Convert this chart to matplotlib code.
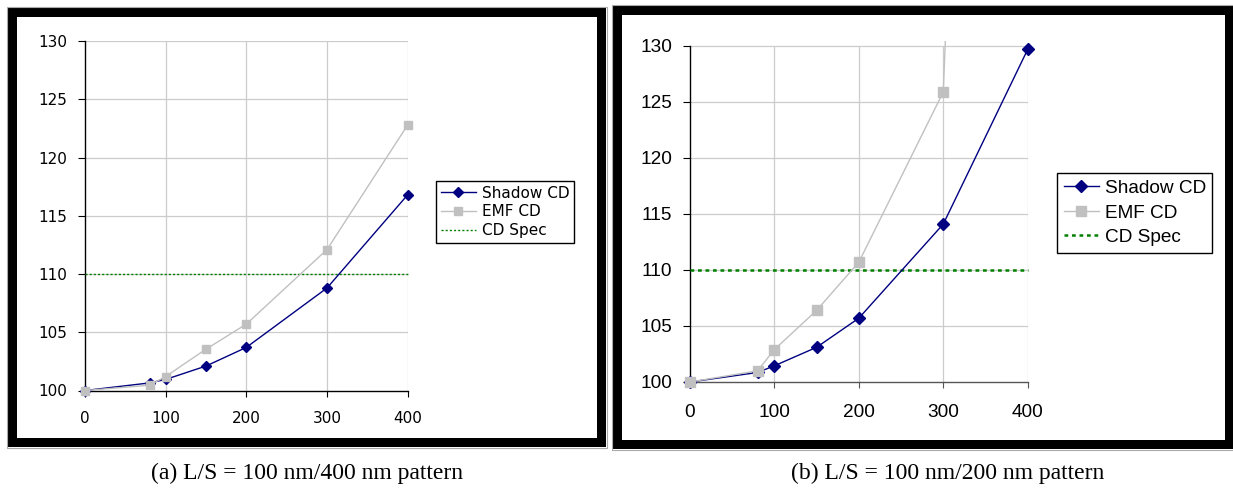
import matplotlib
matplotlib.use("Agg")
import matplotlib.pyplot as plt
from matplotlib.patches import Rectangle
from matplotlib.transforms import Bbox, TransformedBbox
import numpy as np

# ---------------- data ----------------
x_vals = [0, 80, 100, 150, 200, 300, 400]
x_ticks = [0, 100, 200, 300, 400]
y_ticks = [100, 105, 110, 115, 120, 125, 130]

shadow_a = [100.0, 100.65, 100.95, 102.1, 103.7, 108.8, 116.8]
emf_a = [100.0, 100.45, 101.2, 103.55, 105.7, 112.1, 122.8]

shadow_b = [100.0, 100.85, 101.45, 103.1, 105.7, 114.1, 129.7]
emf_b = [100.0, 101.0, 102.9, 106.4, 110.7, 125.9, 314.0]

spec_x = [0, 400]
spec_y = [110, 110]

labels = ["Shadow CD", "EMF CD", "CD Spec"]
captions = ["(a) L/S = 100 nm/400 nm pattern", "(b) L/S = 100 nm/200 nm pattern"]

NAVY = "#000080"
GRAY = "#C0C0C0"
GREEN = "#008000"
GRID = "#CCCCCC"

W, H = 1233, 491
fig = plt.figure(figsize=(W / 100, H / 100), dpi=100)
fig.patch.set_facecolor("white")


def fr(x0, y0, x1, y1):
    """pixel box (top-left origin) -> figure fraction rect"""
    return [x0 / W, 1 - y1 / H, (x1 - x0) / W, (y1 - y0) / H]


# ---------------- panel borders ----------------
def border(x0, y0, x1, y1, t=9):
    for (a, b, c, d) in [(x0, y0, x1, y0 + t), (x0, y1 - t, x1, y1),
                         (x0, y0, x0 + t, y1), (x1 - t, y0, x1, y1)]:
        r = fr(a, b, c, d)
        fig.patches.append(Rectangle((r[0], r[1]), r[2], r[3], transform=fig.transFigure,
                                     facecolor="black", edgecolor="none", zorder=0))
    r = fr(x0 - 1, y0 - 1, x1 + 1, y1 + 1)
    fig.patches.append(Rectangle((r[0], r[1]), r[2], r[3], transform=fig.transFigure,
                                 facecolor="none", edgecolor="#AAAAAA", lw=0.8, zorder=0))


border(8, 8, 606, 447)
border(613, 6, 1234, 449)


def setup(ax, ytop, font, fs, xcol, tickpad_x, tickpad_y):
    ax.set_xlim(0, 400)
    ax.set_ylim(100, ytop)
    ax.set_xticks(x_ticks)
    ax.set_yticks(y_ticks)
    for s in ["top", "right"]:
        ax.spines[s].set_visible(False)
    ax.spines["left"].set_color("black")
    ax.spines["left"].set_linewidth(1.0)
    ax.spines["left"].set_bounds(100, 130)
    ax.spines["bottom"].set_color(xcol)
    ax.spines["bottom"].set_linewidth(1.0)
    ax.tick_params(axis="y", direction="out", length=5, width=0.8, pad=tickpad_y,
                   labelsize=fs, colors="black")
    ax.tick_params(axis="x", direction="out", length=4, width=0.8, pad=tickpad_x,
                   labelsize=fs, colors="black")
    ax.tick_params(axis="x", color=xcol)
    for lab in ax.get_xticklabels() + ax.get_yticklabels():
        lab.set_family(font)
    for yv in y_ticks[1:]:
        ax.axhline(yv, color=GRID, lw=0.9, zorder=1)
    for xv in x_ticks[1:]:
        ax.plot([xv, xv], [100, 130], color=GRID, lw=0.9, zorder=1)
    ax.set_facecolor("none")


def draw(ax, shadow, emf, ms_d, ms_s, spec_ls, spec_lw):
    clip = TransformedBbox(Bbox([[-0.05, -0.05], [1.05, 1.0]]), ax.transAxes)
    l1, = ax.plot(x_vals, shadow, color=NAVY, lw=1.0, marker="D", ms=ms_d,
                  mfc=NAVY, mec=NAVY, label=labels[0], zorder=4)
    vis = [i for i, v in enumerate(emf) if v <= 130]
    l2, = ax.plot(x_vals, emf, color=GRAY, lw=1.0, marker="s", ms=ms_s,
                  mfc=GRAY, mec=GRAY, markevery=vis, label=labels[1], zorder=5)
    l3, = ax.plot(spec_x, spec_y, color=GREEN, lw=spec_lw, ls=spec_ls,
                  label=labels[2], zorder=3)
    for ln in (l1, l2, l3):
        ln.set_clip_box(clip)
    return [l1, l2, l3]


# ---------------- panel (a) ----------------
ax1 = fig.add_axes(fr(85, 41, 407.7, 390.5))
setup(ax1, 130, "DejaVu Sans", 11, "black", 10.5, 8)
h1 = draw(ax1, shadow_a, emf_a, 5.0, 6.0, (0, (1.5, 1.5)), 1.0)
leg1 = ax1.legend(handles=h1, loc="upper left", bbox_to_anchor=(436 / W, 1 - 181 / H),
                  bbox_transform=fig.transFigure, borderaxespad=0, fancybox=False,
                  framealpha=1, edgecolor="black", prop={"family": "DejaVu Sans", "size": 11},
                  handlelength=2.3, handletextpad=0.4, labelspacing=0.25, borderpad=0.3,
                  numpoints=1)
leg1.get_frame().set_linewidth(1.0)

# ---------------- panel (b) ----------------
ytop_b = 100 + (382 - 41) / 11.2
ax2 = fig.add_axes(fr(690, 41, 1027.7, 382))
setup(ax2, ytop_b, "Liberation Sans", 13.7, "#555555", 12, 8)
h2 = draw(ax2, shadow_b, emf_b, 6.5, 7.5, (0, (1.5, 1.5)), 1.8)
leg2 = ax2.legend(handles=h2, loc="upper left", bbox_to_anchor=(1057 / W, 1 - 173 / H),
                  bbox_transform=fig.transFigure, borderaxespad=0, fancybox=False,
                  framealpha=1, edgecolor="black", prop={"family": "Liberation Sans", "size": 13.7},
                  handlelength=1.85, handletextpad=0.3, labelspacing=0.38, borderpad=0.35,
                  numpoints=1)
leg2.get_frame().set_linewidth(1.0)

# ---------------- captions ----------------
fig.text(307 / W, 1 - 473 / H, captions[0], ha="center", va="center",
         family="Liberation Serif", fontsize=17)
fig.text(948 / W, 1 - 473 / H, captions[1], ha="center", va="center",
         family="Liberation Serif", fontsize=17)

fig.savefig("out.png", dpi=100, facecolor="white")
